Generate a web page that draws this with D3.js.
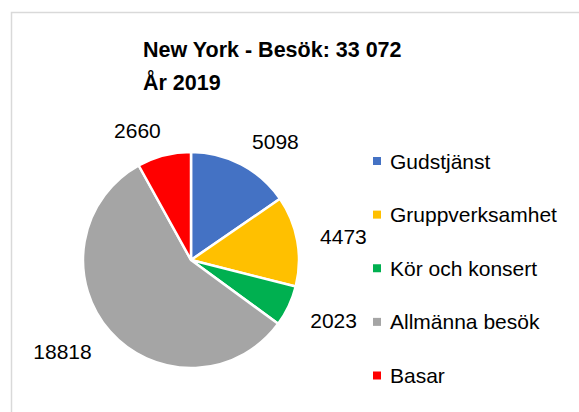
<!DOCTYPE html>
<html>
<head>
<meta charset="utf-8">
<script src="https://cdn.jsdelivr.net/npm/d3@7"></script>
<style>
  html, body { margin: 0; padding: 0; background: #fff; }
  svg { display: block; }
</style>
</head>
<body>
<svg id="chart" width="579" height="412"></svg>
<script>
const titleLines = ["New York - Besök: 33 072", "År 2019"];
const categories = ["Gudstjänst", "Gruppverksamhet", "Kör och konsert", "Allmänna besök", "Basar"];
const values = [5098, 4473, 2023, 18818, 2660];
const colors = ["#4472C4", "#FFC000", "#00B050", "#A5A5A5", "#FF0000"];

const svg = d3.select("#chart");
const font = "'Liberation Sans', Arial, sans-serif";

// frame
svg.append("rect")
  .attr("x", 11.5).attr("y", 12.5)
  .attr("width", 620).attr("height", 450)
  .attr("fill", "#fff").attr("stroke", "#d9d9d9").attr("stroke-width", 1.5);

// title
const title = svg.append("text")
  .attr("font-family", font).attr("font-size", 21.5).attr("font-weight", "bold")
  .attr("fill", "#000");
titleLines.forEach((t, i) => {
  title.append("tspan").attr("x", 143).attr("y", 57 + i * 33).text(t);
});

// pie
const cx = 191, cy = 260, r = 108;
const pie = d3.pie().sort(null).value(d => d)(values);
const arc = d3.arc().innerRadius(0).outerRadius(r);
const g = svg.append("g").attr("transform", `translate(${cx},${cy})`);
g.selectAll("path").data(pie).join("path")
  .attr("d", arc)
  .attr("fill", (d, i) => colors[i])
  .attr("stroke", "#fff").attr("stroke-width", 2.5).attr("stroke-linejoin", "round");

// data labels (outside end, best fit)
const labelSize = 21;
const pad = 16;
g.selectAll("text.lbl").data(pie).join("text")
  .attr("class", "lbl")
  .attr("font-family", font).attr("font-size", labelSize).attr("fill", "#000")
  .attr("text-anchor", "middle")
  .text(d => d.data)
  .each(function(d) {
    const a = (d.startAngle + d.endAngle) / 2;
    const dx = Math.sin(a), dy = -Math.cos(a);
    const w = this.getComputedTextLength();
    const h = labelSize * 0.72;
    const spread = Math.sign(dx) * dy * dy * 16;
    const px = dx * (r + pad) + dx * w / 2 * 1.3 + spread;
    const py = dy * (r + pad) + dy * h / 2 * 1.3 + (dy > 0 ? 3 : 0);
    d3.select(this).attr("x", px).attr("y", py + h / 2);
  });

// legend
const legend = svg.append("g");
const rowY = d3.scalePoint().domain(categories).range([161, 375.5]);
const item = legend.selectAll("g").data(categories).join("g")
  .attr("transform", d => `translate(373,${rowY(d)})`);
item.append("rect")
  .attr("x", 0).attr("y", -4).attr("width", 8).attr("height", 8)
  .attr("fill", (d, i) => colors[i]);
item.append("text")
  .attr("x", 17).attr("y", 7.5)
  .attr("font-family", font).attr("font-size", 21).attr("fill", "#000")
  .text(d => d);
</script>
</body>
</html>
